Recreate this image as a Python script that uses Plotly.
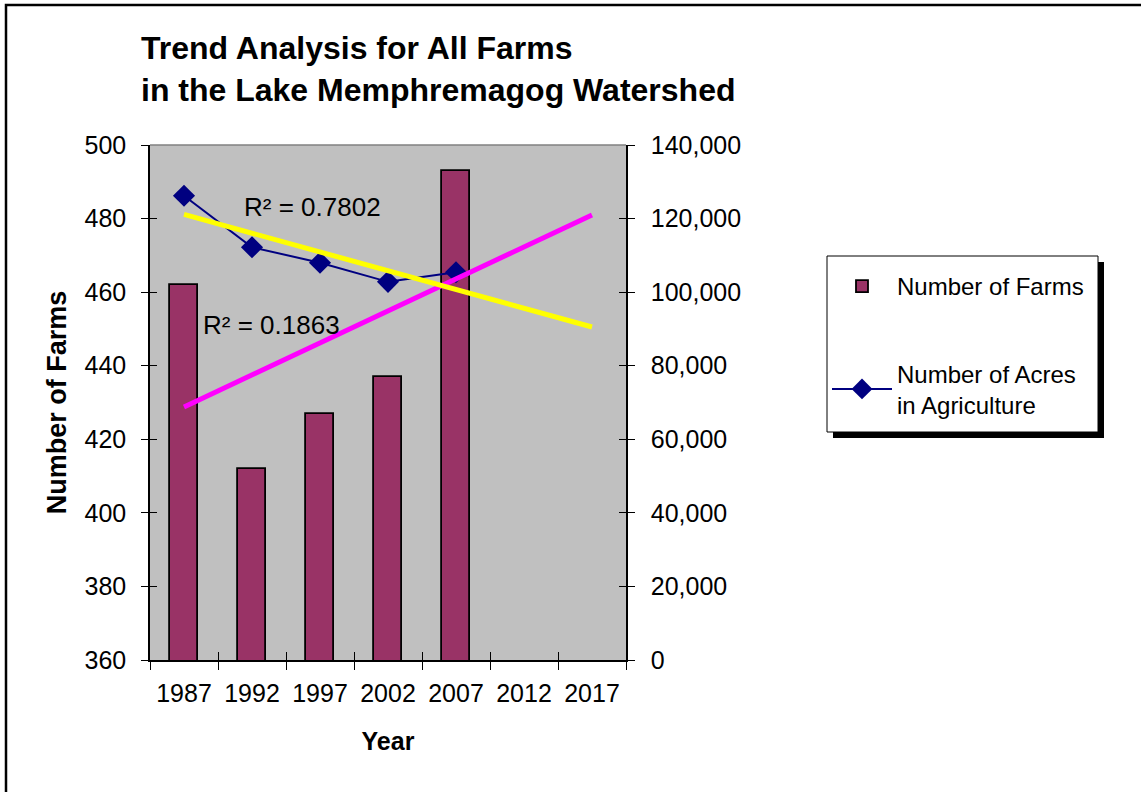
import numpy as np
import plotly.graph_objects as go

# ---- data ----
years = ["1987", "1992", "1997", "2002", "2007", "2012", "2017"]
farms = [462, 412, 427, 437, 493, None, None]
acres = [126200, 112200, 108000, 102800, 105400, None, None]
r2_acres_label = "R² = 0.7802"
r2_farms_label = "R² = 0.1863"

FONT = "Liberation Sans, Arial, sans-serif"
W, H = 1141, 792
L, R, T, B = 150, 626, 145, 660  # plot area in screen px


def px_x(p):
    return (p - L) / (R - L)


def px_y(p):
    return (B - p) / (B - T)


def trend(vals):
    idx = [i for i, v in enumerate(vals) if v is not None]
    ys = [vals[i] for i in idx]
    k, b = np.polyfit(idx, ys, 1)
    ends = [0, len(years) - 1]
    return [years[e] for e in ends], [k * e + b for e in ends]


tx_f, ty_f = trend(farms)
tx_a, ty_a = trend(acres)

fig = go.Figure()
fig.add_trace(go.Bar(
    x=years, y=farms, name="Number of Farms", width=0.405,
    marker=dict(color="#993366", line=dict(color="black", width=1.8)),
    legendgroup="g1", xaxis="x", yaxis="y",
))
fig.add_trace(go.Scatter(
    x=years, y=acres, name="Number of Acres<br>in Agriculture", mode="lines+markers",
    line=dict(color="#000080", width=2),
    marker=dict(symbol="diamond", size=17, color="#000080"),
    legendgroup="g2", xaxis="x", yaxis="y2",
))
fig.add_trace(go.Scatter(
    x=tx_a, y=ty_a, mode="lines", line=dict(color="#FFFF00", width=5),
    showlegend=False, hoverinfo="skip", xaxis="x2", yaxis="y4",
))
fig.add_trace(go.Scatter(
    x=tx_f, y=ty_f, mode="lines", line=dict(color="#FF00FF", width=5),
    showlegend=False, hoverinfo="skip", xaxis="x2", yaxis="y3",
))

tick_font = dict(family=FONT, size=25, color="black")
common_x = dict(type="category", categoryorder="array", categoryarray=years,
                range=[-0.5, len(years) - 0.5], tickson="boundaries",
                showgrid=False, zeroline=False, ticklen=8, tickcolor="black", tickwidth=1)

fig.update_layout(
    width=W, height=H,
    margin=dict(l=L, r=W - R, t=T, b=H - B, pad=0),
    paper_bgcolor="white", plot_bgcolor="#C0C0C0",
    font=dict(family=FONT, color="black"),
    bargap=0,
    xaxis=dict(**common_x, ticks="outside", showline=True, linecolor="black", linewidth=1.5,
               tickfont=tick_font, ticklabelstandoff=10,
               title=dict(text="<b>Year</b>", font=dict(family=FONT, size=25), standoff=27)),
    xaxis2=dict(**common_x, overlaying="x", anchor="y", side="bottom", ticks="inside",
                showticklabels=False, showline=False),
    yaxis=dict(range=[360, 500], dtick=20, ticks="outside", ticklen=7, tickcolor="black",
               showline=True, linecolor="black", linewidth=1.5, showgrid=False, zeroline=False,
               tickfont=tick_font, ticklabelstandoff=10,
               title=dict(text="<b>Number of Farms</b>", font=dict(family=FONT, size=27), standoff=10)),
    yaxis2=dict(range=[0, 140000], dtick=20000, tickformat=",", overlaying="y", side="right",
                anchor="x", ticks="outside", ticklen=7, tickcolor="black",
                showline=True, linecolor="black", linewidth=1.5, showgrid=False, zeroline=False,
                tickfont=tick_font, ticklabelstandoff=11),
    yaxis3=dict(range=[360, 500], dtick=20, overlaying="y", side="left", anchor="x2",
                ticks="inside", ticklen=7, tickcolor="black", showticklabels=False,
                showline=False, showgrid=False, zeroline=False),
    yaxis4=dict(range=[0, 140000], dtick=20000, overlaying="y", side="right", anchor="x2",
                ticks="inside", ticklen=7, tickcolor="black", showticklabels=False,
                showline=False, showgrid=False, zeroline=False),
    showlegend=True,
    legend=dict(x=px_x(827), y=px_y(264), xanchor="left", yanchor="top",
                bgcolor="rgba(0,0,0,0)", borderwidth=0,
                font=dict(family=FONT, size=24, color="black"),
                traceorder="grouped", tracegroupgap=53, itemwidth=60),
)

# title
fig.add_annotation(
    text="<b>Trend Analysis for All Farms<br>in the Lake Memphremagog Watershed</b>",
    xref="paper", yref="paper", x=px_x(139), y=px_y(69), xanchor="left", yanchor="middle",
    align="left", showarrow=False, font=dict(family=FONT, size=32, color="black"),
)
# R² labels
fig.add_annotation(text=r2_acres_label, xref="paper", yref="paper", x=px_x(242), y=px_y(207),
                   xanchor="left", yanchor="middle", showarrow=False,
                   font=dict(family=FONT, size=26, color="black"))
fig.add_annotation(text=r2_farms_label, xref="paper", yref="paper", x=px_x(201), y=px_y(325),
                   xanchor="left", yanchor="middle", showarrow=False,
                   font=dict(family=FONT, size=26, color="black"))

# top border of plot area (gray)
fig.add_shape(type="line", xref="paper", yref="paper", x0=0, x1=1, y0=1, y1=1,
              line=dict(color="#808080", width=1.5))
# legend shadow and box
fig.add_shape(type="rect", xref="paper", yref="paper",
              x0=px_x(833), x1=px_x(1104), y0=px_y(262), y1=px_y(438),
              fillcolor="black", line=dict(width=0), layer="above")
fig.add_shape(type="rect", xref="paper", yref="paper",
              x0=px_x(827), x1=px_x(1098), y0=px_y(256), y1=px_y(432),
              fillcolor="white", line=dict(color="black", width=1), layer="above")
# outer chart border
fig.add_shape(type="rect", xref="paper", yref="paper",
              x0=px_x(6), x1=px_x(1200), y0=px_y(5), y1=px_y(850),
              line=dict(color="black", width=2.5), fillcolor="rgba(0,0,0,0)")

fig.write_html("out.html", config={"displayModeBar": False},
               post_script="document.body.style.margin='0';document.body.style.overflow='hidden';")
